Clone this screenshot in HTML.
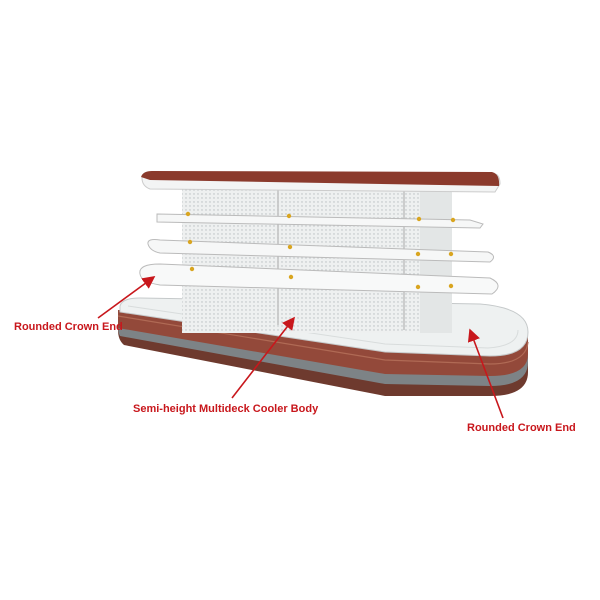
<!DOCTYPE html>
<html><head><meta charset="utf-8"><style>
body{margin:0;background:#fff;width:600px;height:600px;overflow:hidden}
svg{display:block}
text{font-family:"Liberation Sans",sans-serif;font-weight:bold;font-size:11px;fill:#c8171c}
</style></head><body>
<svg width="600" height="600" viewBox="0 0 600 600" xmlns="http://www.w3.org/2000/svg">
<defs>
<pattern id="dots" width="4" height="4" patternUnits="userSpaceOnUse"><rect width="4" height="4" fill="#eef0f0"/><circle cx="2" cy="2" r="0.7" fill="#b8bec0"/></pattern>
<marker id="ah" markerWidth="8" markerHeight="8" refX="7" refY="4" orient="auto"><path d="M0,0 L8,4 L0,8 Z" fill="#c8171c"/></marker>
</defs>
<!-- base layers -->
<path d="M118,310 L385,352 L490,356 Q528,356 528,332 L528,372 Q528,396 490,396 L385,396 L124,345 Q118,340 118,330 Z" fill="#6e3a2e"/>
<path d="M118,310 L385,352 L490,356 Q528,356 528,332 L528,362 Q528,386 490,386 L385,384 L120,336 Q118,333 118,325 Z" fill="#7d8386"/>
<path d="M118,310 L385,352 L490,356 Q528,356 528,332 L528,354 Q528,376 490,376 L385,374 L118,328 Z" fill="#93493a"/>
<path d="M118,316 L385,360 L490,364 Q526,364 528,342" fill="none" stroke="#b06a55" stroke-width="1.2"/>
<!-- top surface -->
<path d="M120,306 Q122,298 140,298 L480,304 Q528,308 528,332 Q528,356 490,356 L385,352 L120,312 Z" fill="#eef1f1" stroke="#c5c9ca"/>
<path d="M128,306 L385,344 L488,348 Q518,346 518,330" fill="none" stroke="#d8dcdc"/>
<!-- back panel -->
<rect x="182" y="188" width="270" height="145" fill="url(#dots)"/>
<rect x="420" y="188" width="32" height="145" fill="#e3e6e6"/>
<line x1="278" y1="190" x2="278" y2="325" stroke="#aaa"/>
<line x1="404" y1="190" x2="404" y2="330" stroke="#aaa"/>
<!-- shelves -->
<path d="M157,214 L470,220 L483,224 L480,228 L157,222 Z" fill="#f6f7f7" stroke="#bbb"/>
<path d="M148,244 Q147,238 160,240 L488,252 Q498,256 490,262 L160,253 Q150,251 148,244 Z" fill="#f6f7f7" stroke="#bbb"/>
<path d="M140,274 Q138,264 160,264 L490,278 Q505,285 492,294 L160,285 Q141,282 140,274 Z" fill="#f8f9f9" stroke="#bbb"/>
<!-- canopy -->
<path d="M142,178 Q142,172 150,172 L495,174 Q500,175 500,184 L495,192 L150,189 Q142,186 142,178 Z" fill="#f3f4f4" stroke="#ccc"/>
<path d="M141,177 Q143,171 152,171 L492,172 Q500,174 499,186 L150,180 Z" fill="#8b3a2c"/>
<!-- yellow pegs -->
<g fill="#d9a520">
<circle cx="188" cy="214" r="2.2"/><circle cx="289" cy="216" r="2.2"/><circle cx="419" cy="219" r="2.2"/><circle cx="453" cy="220" r="2.2"/>
<circle cx="190" cy="242" r="2.2"/><circle cx="290" cy="247" r="2.2"/><circle cx="418" cy="254" r="2.2"/><circle cx="451" cy="254" r="2.2"/>
<circle cx="192" cy="269" r="2.2"/><circle cx="291" cy="277" r="2.2"/><circle cx="418" cy="287" r="2.2"/><circle cx="451" cy="286" r="2.2"/>
</g>
<!-- arrows -->
<g stroke="#c8171c" stroke-width="1.6" fill="none" marker-end="url(#ah)">
<line x1="98" y1="318" x2="154" y2="277"/>
<line x1="232" y1="398" x2="294" y2="318"/>
<line x1="503" y1="418" x2="470" y2="330"/>
</g>
<text x="14" y="330">Rounded Crown End</text>
<text x="133" y="412">Semi-height Multideck Cooler Body</text>
<text x="467" y="431">Rounded Crown End</text>
</svg>
</body></html>
